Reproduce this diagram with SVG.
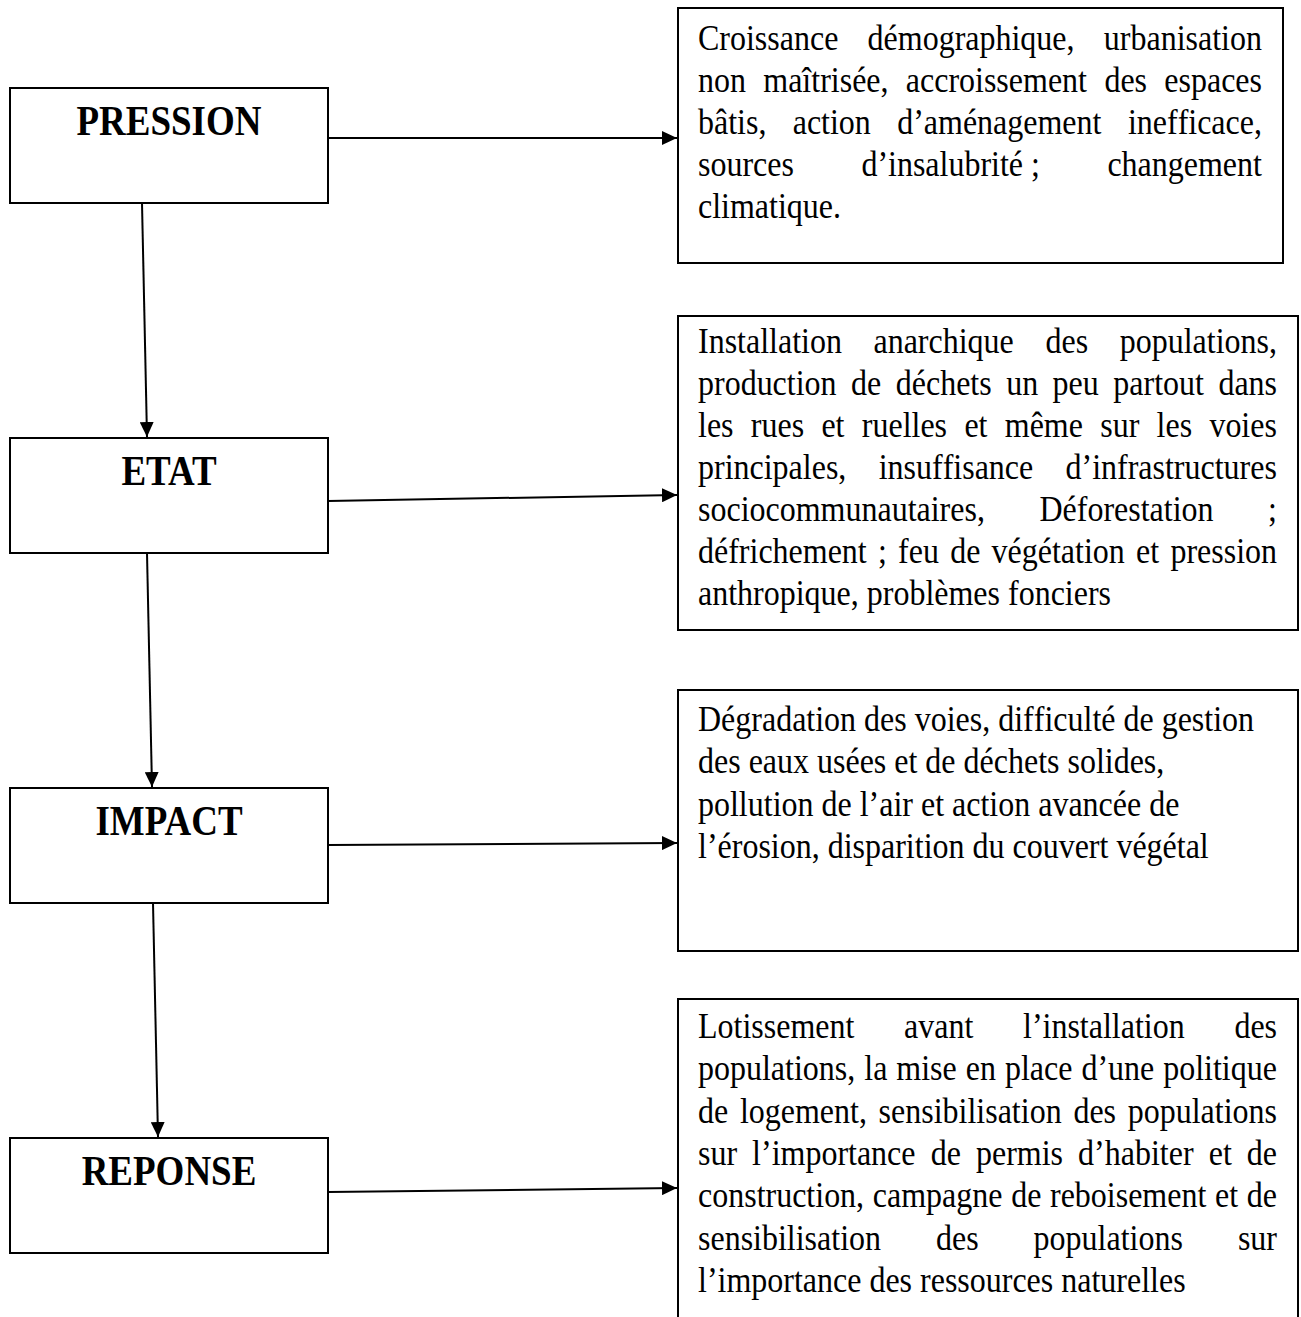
<svg xmlns="http://www.w3.org/2000/svg" width="1301" height="1317" viewBox="0 0 1301 1317">
<style>
.box{fill:#fff;stroke:#000;stroke-width:2}
.lbl{font-family:"Liberation Serif","Times New Roman",serif;font-weight:bold;font-size:37px;text-anchor:middle;fill:#000}
.t{font-family:"Liberation Serif","Times New Roman",serif;font-size:32px;fill:#000;font-kerning:none;font-variant-ligatures:none;white-space:pre}
.c{stroke:#000;stroke-width:2;fill:none;marker-end:url(#ah)}
</style>
<defs>
<marker id="ah" markerUnits="userSpaceOnUse" markerWidth="16" markerHeight="14" refX="15" refY="7" orient="auto">
<path d="M0,0 L15,7 L0,14 z" fill="#000"/>
</marker>
</defs>
<rect width="1301" height="1317" fill="#fff"/>

<g id="connectors">
<line class="c" x1="142" y1="203" x2="147" y2="437"/>
<line class="c" x1="147" y1="553" x2="152" y2="787"/>
<line class="c" x1="153" y1="903" x2="158" y2="1137"/>
<line class="c" x1="328" y1="138" x2="677" y2="138"/>
<line class="c" x1="328" y1="501" x2="677" y2="495"/>
<line class="c" x1="328" y1="845" x2="677" y2="843"/>
<line class="c" x1="328" y1="1192" x2="677" y2="1188"/>
</g>

<g id="pression">
<rect class="box" x="10" y="88" width="318" height="115"/>
<text class="lbl" transform="matrix(1 0 0 1.12 169 135)">PRESSION</text>
</g>
<g id="etat">
<rect class="box" x="10" y="438" width="318" height="115"/>
<text class="lbl" transform="matrix(1 0 0 1.12 169 485)">ETAT</text>
</g>
<g id="impact">
<rect class="box" x="10" y="788" width="318" height="115"/>
<text class="lbl" transform="matrix(1 0 0 1.12 169 835)">IMPACT</text>
</g>
<g id="reponse">
<rect class="box" x="10" y="1138" width="318" height="115"/>
<text class="lbl" transform="matrix(1 0 0 1.12 169 1185)">REPONSE</text>
</g>

<g id="pression-desc">
<rect class="box" x="678" y="8" width="605" height="255"/>
<text class="t" transform="matrix(1 0 0 1.15 0 50)"><tspan x="698">Croissance</tspan><tspan x="867.6">démographique,</tspan><tspan x="1103.8">urbanisation</tspan></text>
<text class="t" transform="matrix(1 0 0 1.15 0 92)"><tspan x="698">non</tspan><tspan x="763.3">maîtrisée,</tspan><tspan x="905.8">accroissement</tspan><tspan x="1104.4">des</tspan><tspan x="1164.3">espaces</tspan></text>
<text class="t" transform="matrix(1 0 0 1.15 0 134)"><tspan x="698">bâtis,</tspan><tspan x="792.7">action</tspan><tspan x="897.2">d’aménagement</tspan><tspan x="1127.9">inefficace,</tspan></text>
<text class="t" transform="matrix(1 0 0 1.15 0 176)"><tspan x="698">sources</tspan><tspan x="861.4">d’insalubrité&#160;;</tspan><tspan x="1107.4">changement</tspan></text>
<text class="t" transform="matrix(1 0 0 1.15 0 218)"><tspan x="698">climatique.</tspan></text>
</g>

<g id="etat-desc">
<rect class="box" x="678" y="316" width="620" height="314"/>
<text class="t" transform="matrix(1 0 0 1.15 0 353)"><tspan x="698">Installation</tspan><tspan x="873.5">anarchique</tspan><tspan x="1045.5">des</tspan><tspan x="1119.7">populations,</tspan></text>
<text class="t" transform="matrix(1 0 0 1.15 0 395)"><tspan x="698">production</tspan><tspan x="851.1">de</tspan><tspan x="895.8">déchets</tspan><tspan x="1006.2">un</tspan><tspan x="1052.6">peu</tspan><tspan x="1113.3">partout</tspan><tspan x="1218.4">dans</tspan></text>
<text class="t" transform="matrix(1 0 0 1.15 0 437)"><tspan x="698">les</tspan><tspan x="750.8">rues</tspan><tspan x="821.4">et</tspan><tspan x="861.8">ruelles</tspan><tspan x="964.4">et</tspan><tspan x="1004.8">même</tspan><tspan x="1100.2">sur</tspan><tspan x="1156.6">les</tspan><tspan x="1209.4">voies</tspan></text>
<text class="t" transform="matrix(1 0 0 1.15 0 479)"><tspan x="698">principales,</tspan><tspan x="878.7">insuffisance</tspan><tspan x="1065.5">d’infrastructures</tspan></text>
<text class="t" transform="matrix(1 0 0 1.15 0 521)"><tspan x="698">sociocommunautaires,</tspan><tspan x="1039.5">Déforestation</tspan><tspan x="1268.1">;</tspan></text>
<text class="t" transform="matrix(1 0 0 1.15 0 563)"><tspan x="698">défrichement</tspan><tspan x="878">;</tspan><tspan x="898.1">feu</tspan><tspan x="950.2">de</tspan><tspan x="991.6">végétation</tspan><tspan x="1136.1">et</tspan><tspan x="1170.4">pression</tspan></text>
<text class="t" transform="matrix(1 0 0 1.15 0 605)"><tspan x="698">anthropique, problèmes fonciers</tspan></text>
</g>

<g id="impact-desc">
<rect class="box" x="678" y="690" width="620" height="261"/>
<text class="t" transform="matrix(1 0 0 1.15 698 731)">Dégradation des voies, difficulté de gestion</text>
<text class="t" transform="matrix(1 0 0 1.15 698 773)">des eaux usées et de déchets solides,</text>
<text class="t" transform="matrix(1 0 0 1.15 698 816)">pollution de l’air et action avancée de</text>
<text class="t" transform="matrix(1 0 0 1.15 698 858)">l’érosion, disparition du couvert végétal</text>
</g>

<g id="reponse-desc">
<rect class="box" x="678" y="999" width="620" height="330"/>
<text class="t" transform="matrix(1 0 0 1.15 0 1038)"><tspan x="698">Lotissement</tspan><tspan x="904.1">avant</tspan><tspan x="1023">l’installation</tspan><tspan x="1234.4">des</tspan></text>
<text class="t" transform="matrix(1 0 0 1.15 0 1080)"><tspan x="698">populations,</tspan><tspan x="864.3">la</tspan><tspan x="896.3">mise</tspan><tspan x="965.7">en</tspan><tspan x="1004.9">place</tspan><tspan x="1081.4">d’une</tspan><tspan x="1163.2">politique</tspan></text>
<text class="t" transform="matrix(1 0 0 1.15 0 1123)"><tspan x="698">de</tspan><tspan x="739.9">logement,</tspan><tspan x="878.6">sensibilisation</tspan><tspan x="1073.4">des</tspan><tspan x="1127.7">populations</tspan></text>
<text class="t" transform="matrix(1 0 0 1.15 0 1165)"><tspan x="698">sur</tspan><tspan x="752.1">l’importance</tspan><tspan x="930.7">de</tspan><tspan x="976">permis</tspan><tspan x="1078.1">d’habiter</tspan><tspan x="1208.7">et</tspan><tspan x="1246.8">de</tspan></text>
<text class="t" transform="matrix(1 0 0 1.15 0 1207)"><tspan x="698">construction,</tspan><tspan x="872.8">campagne</tspan><tspan x="1011.2">de</tspan><tspan x="1050">reboisement</tspan><tspan x="1215.1">et</tspan><tspan x="1246.8">de</tspan></text>
<text class="t" transform="matrix(1 0 0 1.15 0 1250)"><tspan x="698">sensibilisation</tspan><tspan x="936.1">des</tspan><tspan x="1033.6">populations</tspan><tspan x="1237.9">sur</tspan></text>
<text class="t" transform="matrix(1 0 0 1.15 0 1292)"><tspan x="698">l’importance des ressources naturelles</tspan></text>
</g>
</svg>
